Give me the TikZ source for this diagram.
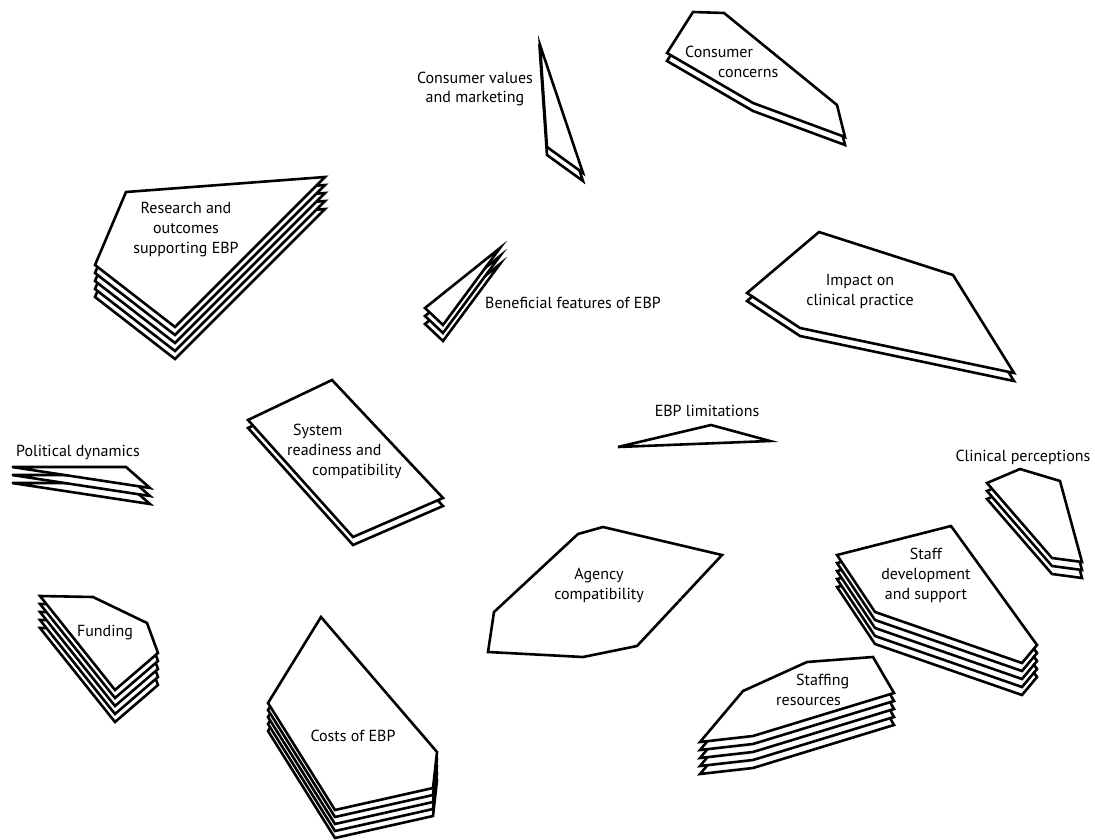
\documentclass[tikz,border=0pt]{standalone}
\usepackage{fontspec}
\setmainfont{PT Sans}
\usetikzlibrary{positioning}
\tikzset{
  sheet/.style={draw, fill=white, line width=2.6pt, line join=miter},
  lbl/.style={font=\fontsize{16}{20}\selectfont, align=center, inner sep=0pt},
}
% a pile of #1 sheets, #2 apart, outline #3
\newcommand{\pile}[3]{%
  \foreach \k in {#1,...,1}{
    \draw[sheet, yshift={-(\k-1)*#2}] #3 -- cycle;
  }
}

\begin{document}
\begin{tikzpicture}[x=1pt, y=-1pt]
    \useasboundingbox (0,0) rectangle (1095,840);

    % Piles of sheets, one for each theme
    \pile{5}{8}{(126,192) -- (325,177) -- (175,327) -- (95,265)}
    \pile{2}{8}{(540,45) -- (583,173) -- (547,147)}
    \pile{2}{8}{(693,12) -- (724,13) -- (837,105) -- (845,137) -- (753,103) -- (667,53)}
    \pile{3}{8}{(500,248) -- (443,325) -- (425,308)}
    \pile{2}{8}{(819,232) -- (953,275) -- (1014,373) -- (800,328) -- (747,293)}
    \pile{3}{8}{(12,467) -- (126,467) -- (150,488)}
    \pile{2}{8}{(332,380) -- (443,498) -- (353,537) -- (248,420)}
    \pile{1}{8}{(618,447) -- (711,425) -- (770,441)}
    \pile{3}{8}{(987,483) -- (1020,469) -- (1060,481) -- (1082,562) -- (1052,558)}
    \pile{1}{8}{(578,534) -- (603,527) -- (722,555) -- (637,646) -- (583,657) -- (488,652) -- (494,612)}
    \pile{5}{8}{(837,555) -- (951,526) -- (1037,645) -- (1022,663) -- (875,612)}
    \pile{5}{8}{(700,742) -- (743,691) -- (807,662) -- (873,657) -- (894,693) -- (753,736)}
    \pile{5}{8}{(40,596) -- (93,597) -- (147,623) -- (158,653) -- (115,690)}
    \pile{5}{7}{(321,617) -- (437,752) -- (433,788) -- (335,810) -- (268,703)}

    % Labels
    \node[lbl] (research) at (186,230) {Research and\\outcomes\\supporting EBP};
    \node[lbl] (values) at (475,89) {Consumer values\\and marketing};
    \node[lbl, align=left, anchor=west] (concerns) at (685,62) {Consumer\\\hspace*{33pt}concerns};
    \node[lbl, anchor=west] (benefit) at (485,303) {Beneficial features of EBP};
    \node[lbl] (impact) at (860,291) {Impact on\\clinical practice};
    \node[lbl] (political) at (78,452) {Political dynamics};
    \node[lbl, align=left, anchor=west] (readiness) at (287,451) {\hspace*{6pt}System\\readiness and\\\hspace*{25pt}compatibility};
    \node[lbl] (limits) at (707,411) {EBP limitations};
    \node[lbl] (perception) at (1023,457) {Clinical perceptions};
    \node[lbl] (agency) at (599,585) {Agency\\compatibility};
    \node[lbl] (staffdev) at (926,575) {Staff\\development\\and support};
    \node[lbl, align=left, anchor=west] (staffing) at (776,690) {\hspace*{20pt}Staffing\\resources};
    \node[lbl] (funding) at (105,633) {Funding};
    \node[lbl] (costs) at (353,736) {Costs of EBP};
  \end{tikzpicture}
\end{document}
